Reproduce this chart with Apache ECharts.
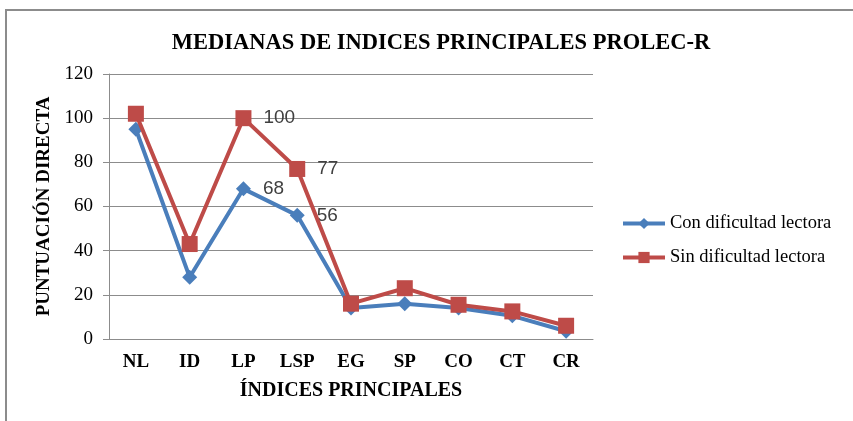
<!DOCTYPE html>
<html>
<head>
<meta charset="utf-8">
<script src="https://cdn.jsdelivr.net/npm/echarts@6/dist/echarts.min.js"></script>
<style>
  html, body { margin: 0; padding: 0; background: #fff; }
  #chart { width: 853px; height: 421px; }
</style>
</head>
<body>
<div id="chart"></div>
<script>
  var categories = ['NL', 'ID', 'LP', 'LSP', 'EG', 'SP', 'CO', 'CT', 'CR'];
  var conDificultad = [95, 28, 68, 56, 14, 16, 14, 10.5, 3.5];
  var sinDificultad = [102, 43, 100, 77, 16, 23, 15.5, 12.5, 6];
  // solo se etiquetan LP y LSP
  var labelled = ['LP', 'LSP'];

  var serif = '"Liberation Serif", "Times New Roman", serif';

  function withLabels(values) {
    return values.map(function (v, i) {
      return {
        value: v,
        label: { show: labelled.indexOf(categories[i]) >= 0 }
      };
    });
  }

  var chart = echarts.init(document.getElementById('chart'));
  chart.setOption({
    animation: false,
    title: {
      text: 'MEDIANAS DE INDICES PRINCIPALES PROLEC-R',
      left: 436,
      top: 27,
      textAlign: 'center',
      textStyle: { fontFamily: serif, fontSize: 22.5, fontWeight: 'bold', color: '#000' }
    },
    graphic: [{
      type: 'rect',
      shape: { x: 6, y: 10, width: 900, height: 500 },
      style: { fill: 'none', stroke: '#8c8c8c', lineWidth: 2 },
      silent: true
    }],
    legend: {
      orient: 'vertical',
      left: 616,
      top: 209,
      itemGap: 15,
      itemWidth: 42,
      itemHeight: 14,
      lineStyle: { width: 4 },
      textStyle: { fontFamily: serif, fontSize: 18.5, color: '#000' },
      data: ['Con dificultad lectora', 'Sin dificultad lectora']
    },
    grid: { left: 109, right: 260, top: 74, bottom: 82 },
    xAxis: {
      type: 'category',
      data: categories,
      boundaryGap: true,
      name: 'ÍNDICES PRINCIPALES',
      nameLocation: 'middle',
      nameGap: 42,
      nameTextStyle: { fontFamily: serif, fontSize: 20, fontWeight: 'bold', color: '#000' },
      axisLine: { lineStyle: { color: '#8c8c8c', width: 1 } },
      axisTick: { show: false },
      axisLabel: { fontFamily: serif, fontSize: 19, fontWeight: 'bold', color: '#000', margin: 14 }
    },
    yAxis: {
      type: 'value',
      min: 0,
      max: 120,
      interval: 20,
      name: 'PUNTUACIÓN DIRECTA',
      nameLocation: 'middle',
      nameGap: 49,
      nameTextStyle: { fontFamily: serif, fontSize: 19, fontWeight: 'bold', color: '#000' },
      axisLine: { show: true, lineStyle: { color: '#8c8c8c', width: 1 } },
      axisTick: { show: true, inside: false, length: 6, lineStyle: { color: '#8c8c8c' } },
      axisLabel: { fontFamily: serif, fontSize: 19, color: '#000', margin: 16 },
      splitLine: { lineStyle: { color: '#8c8c8c', width: 1 } }
    },
    series: [{
      name: 'Con dificultad lectora',
      type: 'line',
      data: withLabels(conDificultad),
      symbol: 'diamond',
      symbolSize: 15,
      itemStyle: { color: '#4a7ebb' },
      lineStyle: { color: '#4a7ebb', width: 4 },
      label: {
        position: 'right',
        distance: 12,
        fontFamily: '"Liberation Sans", Arial, sans-serif',
        fontSize: 19,
        color: '#404040'
      },
      z: 2
    }, {
      name: 'Sin dificultad lectora',
      type: 'line',
      data: withLabels(sinDificultad),
      symbol: 'rect',
      symbolSize: 16,
      itemStyle: { color: '#be4b48' },
      lineStyle: { color: '#be4b48', width: 4 },
      label: {
        position: 'right',
        distance: 12,
        fontFamily: '"Liberation Sans", Arial, sans-serif',
        fontSize: 19,
        color: '#404040'
      },
      z: 3
    }]
  });
</script>
</body>
</html>
